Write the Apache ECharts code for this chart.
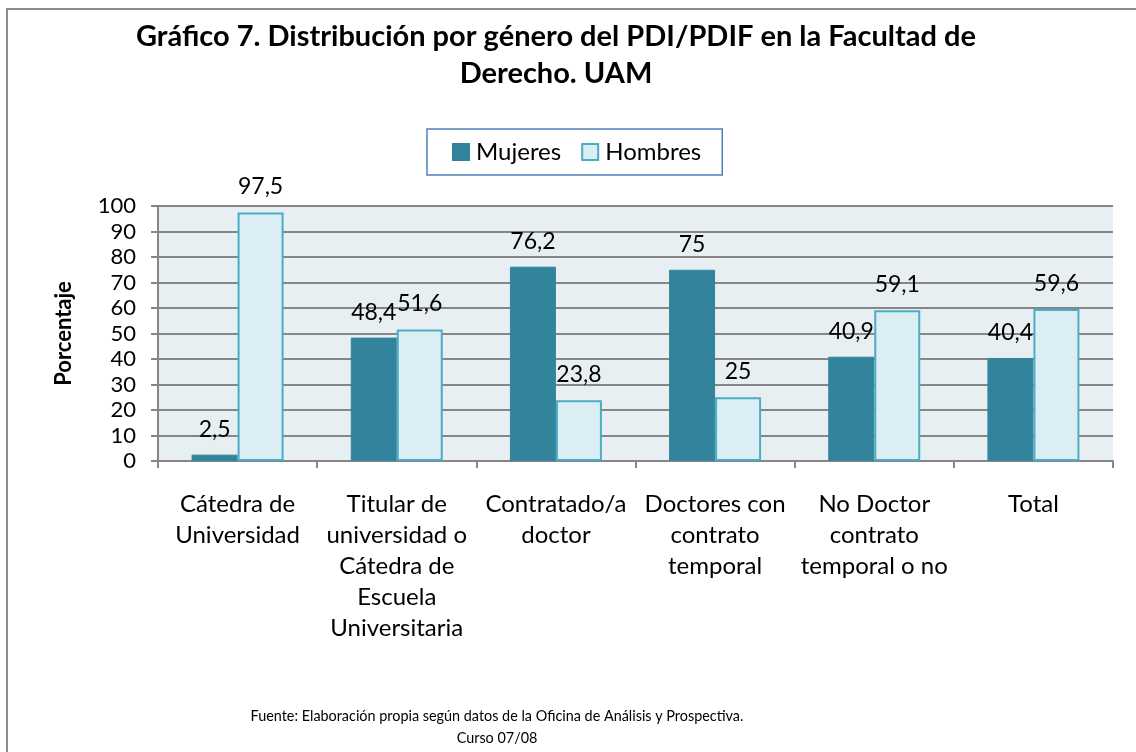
<!DOCTYPE html>
<html>
<head>
<meta charset="utf-8">
<script src="https://cdn.jsdelivr.net/npm/echarts@6/dist/echarts.min.js"></script>
<style>html,body{margin:0;padding:0;background:#fff}#c{width:1136px;height:752px}</style>
</head>
<body>
<div id="c"></div>
<script>
const categories = ['Cátedra de\nUniversidad', 'Titular de\nuniversidad o\nCátedra de\nEscuela\nUniversitaria', 'Contratado/a\ndoctor', 'Doctores con\ncontrato\ntemporal', 'No Doctor\ncontrato\ntemporal o no', 'Total'];
const mujeres = [2.5, 48.4, 76.2, 75, 40.9, 40.4];
const hombres = [97.5, 51.6, 23.8, 25, 59.1, 59.6];
const yTicks = [0, 10, 20, 30, 40, 50, 60, 70, 80, 90, 100];
const titleText = 'Gráfico 7. Distribución por género del PDI/PDIF en la Facultad de\nDerecho. UAM';
const footerText = 'Fuente: Elaboración propia según datos de la Oficina de Análisis y Prospectiva.\nCurso 07/08';

const F = 'Lato, "Open Sans", sans-serif';
const chart = echarts.init(document.getElementById('c'));
const fmt = p => String(p.value).replace('.', ',');
chart.setOption({
  backgroundColor: '#ffffff',
  animation: false,
  graphic: [
    { type: 'rect', shape: { x: 7, y: 9, width: 2000, height: 2000 }, style: { fill: 'none', stroke: '#8c8c8c', lineWidth: 2 }, silent: true },
    { type: 'text', x: 556, y: 18, style: { text: titleText, font: 'bold 29px ' + F, fill: '#000', textAlign: 'center', lineHeight: 37 } },
    { type: 'text', x: 497, y: 705, style: { text: footerText, font: '14.4px ' + F, fill: '#000', textAlign: 'center', lineHeight: 22 } }
  ],
  legend: {
    left: 427, top: 129,
    icon: 'rect',
    itemWidth: 16, itemHeight: 16, itemGap: 20,
    padding: [11, 21, 11, 25],
    borderColor: '#4F81BD', borderWidth: 1.5,
    textStyle: { fontFamily: F, fontSize: 24, color: '#000', padding: [0, 0, 0, 2] },
    data: ['Mujeres', 'Hombres']
  },
  grid: { left: 158, right: 23, top: 206, bottom: 291, show: true, backgroundColor: '#E8EFF3', borderWidth: 0 },
  xAxis: {
    type: 'category', data: categories,
    axisLine: { lineStyle: { color: '#868686', width: 2 } },
    axisTick: { show: true, length: 7, lineStyle: { color: '#868686', width: 2 } },
    axisLabel: { fontFamily: F, fontSize: 24, color: '#000', lineHeight: 31, margin: 28, interval: 0 }
  },
  yAxis: {
    type: 'value', min: 0, max: 100, interval: 10,
    name: 'Porcentaje', nameLocation: 'middle', nameGap: 83, nameRotate: 90,
    nameTextStyle: { fontFamily: F, fontSize: 22, fontWeight: 'bold', color: '#000' },
    axisLine: { show: true, lineStyle: { color: '#868686', width: 2 } },
    axisTick: { show: true, length: 7, lineStyle: { color: '#868686', width: 2 } },
    splitLine: { lineStyle: { color: '#868686', width: 2 } },
    axisLabel: { fontFamily: F, fontSize: 22, color: '#000', margin: 22, formatter: v => yTicks.includes(v) ? String(v) : '' }
  },
  series: [
    { name: 'Mujeres', type: 'bar', data: mujeres, barWidth: 46, barGap: '0%',
      itemStyle: { color: '#31849B', borderColor: '#31849B', borderWidth: 1 },
      label: { show: true, position: 'top', distance: 14, fontFamily: F, fontSize: 23, color: '#000', formatter: fmt } },
    { name: 'Hombres', type: 'bar', data: hombres, barWidth: 46, barGap: '0%',
      itemStyle: { color: '#DBEEF4', borderColor: '#4BACC6', borderWidth: 2 },
      label: { show: true, position: 'top', distance: 14, fontFamily: F, fontSize: 23, color: '#000', formatter: fmt } }
  ]
});
</script>
</body>
</html>
